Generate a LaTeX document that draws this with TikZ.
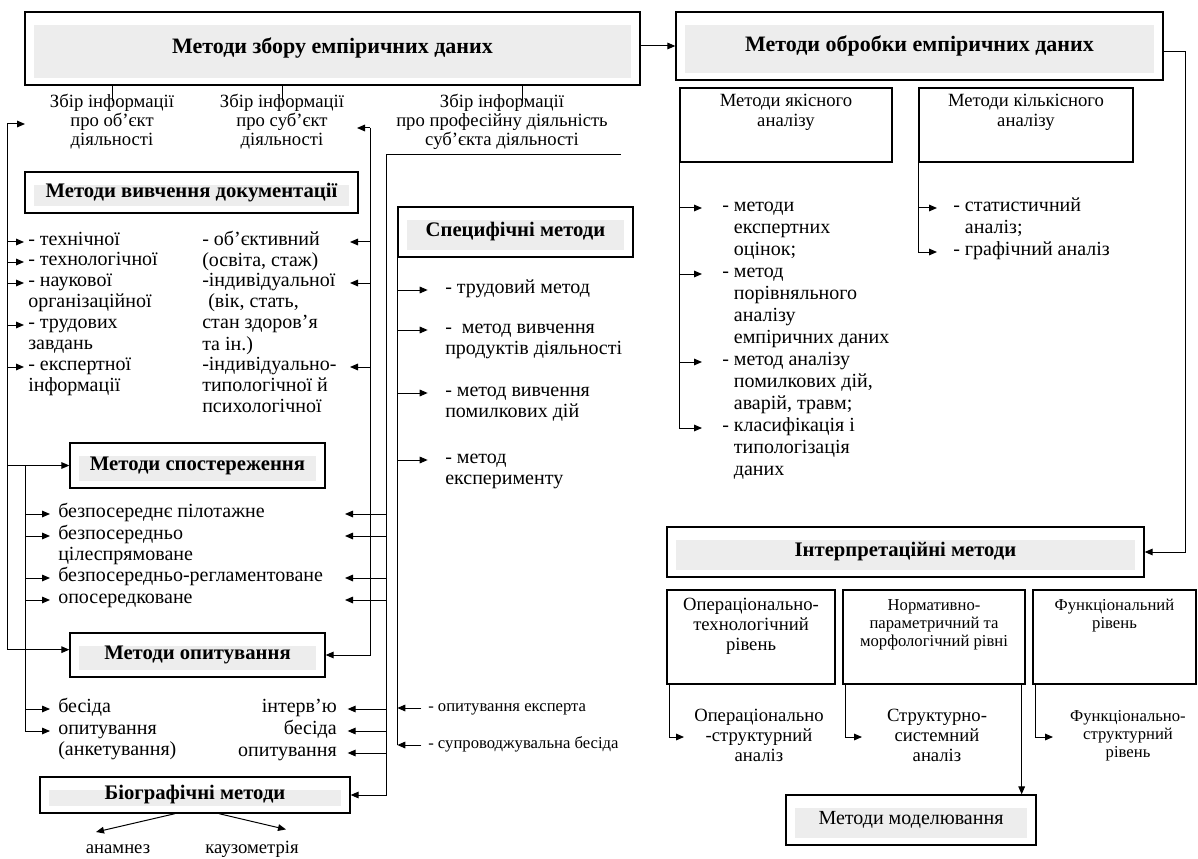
\documentclass[tikz,border=0pt]{standalone}
\usepackage{fontspec}
\setmainfont{Liberation Serif}
\usetikzlibrary{arrows.meta, calc}

\newcommand\titlefont{\bfseries\fontsize{15.5}{17}\selectfont}
\newcommand\bigtitlefont{\bfseries\fontsize{16.5}{18}\selectfont}
\newcommand\entryfont{\fontsize{15}{16}\selectfont}
\newcommand\rightfont{\fontsize{15}{16.5}\selectfont}
\newcommand\headfont{\fontsize{14}{14.25}\selectfont}
\newcommand\levelfont{\fontsize{14}{15}\selectfont}
\newcommand\levelsmall{\fontsize{12.5}{13.5}\selectfont}
\newcommand\leftlines[1]{\begin{tabular}[t]{@{}l@{}}#1\end{tabular}}
\newcommand\midlines[1]{\begin{tabular}[t]{@{}c@{}}#1\end{tabular}}
\colorlet{band}{black!7}

\begin{document}
\begin{tikzpicture}[x=0.75pt, y=-0.75pt,
  box/.style={draw, line width=1pt, inner sep=0pt},
  titlebox/.style={box, font=\titlefont,
    path picture={\fill[band] ($(path picture bounding box.south west)+(7pt,5pt)$)
      rectangle ($(path picture bounding box.north east)+(-7pt,-10pt)$);}},
  entry/.style={inner sep=0pt, anchor=mid west, font=\entryfont},
  entryr/.style={inner sep=0pt, anchor=mid east, font=\entryfont},
  head/.style={inner sep=0pt, anchor=mid, font=\headfont},
  level/.style={inner sep=0pt, anchor=mid, font=\levelfont},
  conn/.style={line width=0.75pt},
  arr/.style={conn, -{Triangle[length=6pt,width=5pt]}}]
\useasboundingbox (0,0) rectangle (1198,859);

% Top boxes
\node[titlebox, font=\bigtitlefont, minimum width=461.25pt, minimum height=54.75pt] (collect) at (332.5,48.5) {Методи збору емпіричних даних};
\node[titlebox, font=\bigtitlefont, minimum width=365.25pt, minimum height=51pt] (process) at (919.5,46) {Методи обробки емпіричних даних};
\draw[arr] (collect.east |- process.west) -- (process.west);

% Kinds of information
\node[head] (objinfo) at (112,104) {\midlines{Збір інформації\\про об’єкт\\діяльності}};
\node[head] (subinfo) at (282,104) {\midlines{Збір інформації\\про суб’єкт\\діяльності}};
\node[head] (profinfo) at (502,104) {\midlines{Збір інформації\\про професійну діяльність\\суб’єкта діяльності}};
\draw[conn] (objinfo.north |- collect.south) -- ++(0,15);
\draw[conn] (subinfo.north |- collect.south) -- ++(0,15);
\draw[conn] ($(profinfo.north |- collect.south)+(20,0)$) -- ++(0,15);

% Bus lines
\coordinate (busA) at (7,124);
\coordinate (busB) at (25,465.5);
\coordinate (busS) at (370,128);
\coordinate (busP) at (386,155);

% Documentation
\node[titlebox, minimum width=249.75pt, minimum height=30.75pt] (docs) at (191.5,192.5) {Методи вивчення документації};
\node[entry] (d1) at (28,242) {- технічної};
\node[entry] (d2) at (28,262) {- технологічної};
\node[entry] (d3) at (28,283) {\leftlines{- наукової\\організаційної}};
\node[entry] (d4) at (28,325) {\leftlines{- трудових\\завдань}};
\node[entry] (d5) at (28,367) {\leftlines{- експертної\\інформації}};
\node[entry] (e1) at (202,242) {\leftlines{- об’єктивний\\(освіта, стаж)}};
\node[entry] (e2) at (202,283) {\leftlines{-індивідуальної\\\hspace{0.3em}(вік, стать,\\стан здоров’я\\та ін.)}};
\node[entry] (e3) at (202,367) {\leftlines{-індивідуально-\\типологічної й\\психологічної}};

% Observation
\node[titlebox, minimum width=191.25pt, minimum height=33.75pt] (observ) at (197.5,465.5) {Методи спостереження};
\node[entry] (o1) at (58,514) {безпосереднє пілотажне};
\node[entry] (o2) at (58,536) {\leftlines{безпосередньо\\цілеспрямоване}};
\node[entry] (o3) at (58,578) {безпосередньо-регламентоване};
\node[entry] (o4) at (58,600) {опосередковане};

% Survey
\node[titlebox, minimum width=191.25pt, minimum height=33pt] (survey) at (197.5,655) {Методи опитування};
\node[entry] (q1) at (58,709) {бесіда};
\node[entry] (q2) at (58,731) {\leftlines{опитування\\(анкетування)}};
\node[entryr] (r1) at (337,709) {інтерв’ю};
\node[entryr] (r2) at (337,731) {бесіда};
\node[entryr] (r3) at (337,753) {опитування};

% Biography
\node[titlebox, minimum width=232.5pt, minimum height=27pt] (bio) at (195,795) {Біографічні методи};
\node[level] (anam) at (118,850) {анамнез};
\node[level] (kauz) at (252,850) {каузометрія};
\draw[arr] ($(bio.south)+(-20,0)$) -- ($(anam.north)+(-22,-12)$);
\draw[arr] ($(bio.south)+(24,0)$) -- ($(kauz.north)+(34,-11)$);

% Left bus
\draw[arr] (busA) -- ++(18,0);
\draw[arr] (busA) |- ([yshift=4pt]survey.west);
\foreach \n in {d1,d2,d3,d4,d5}
  \draw[arr] (busA |- \n.mid west) -- ([xshift=-3pt]\n.mid west);
\draw[arr] (busA |- observ.west) -- (observ.west);
\draw[conn] (busB) -- (busB |- q2.mid west);
\foreach \n in {o1,o2,o3,o4,q1,q2}
  \draw[arr] (busB |- \n.mid west) -- ([xshift=-6pt]\n.mid west);

% Subject bus
\draw[arr] (busS) -- ++(-13,0);
\draw[arr] (busS) |- (survey.east);
\foreach \n in {e1,e2,e3}
  \draw[arr] (busS |- \n.mid west) -- ++(-20,0);

% Professional bus
\draw[conn] (busP) -- ++(235,0);
\draw[arr] (busP) |- (bio.east);
\foreach \n in {o1,o2,o3,o4}
  \draw[arr] (busP |- \n.mid west) -- ++(-41,0);
\foreach \n in {r1,r2,r3}
  \draw[arr] (busP |- \n.mid west) -- ([xshift=8pt]\n.mid east);

% Specific methods
\node[titlebox, minimum width=176.25pt, minimum height=37.5pt] (spec) at (515.5,232) {Специфічні методи};
\node[entry] (p1) at (445,290) {- трудовий метод};
\node[entry] (p2) at (445,330) {\leftlines{-\ \ метод вивчення\\продуктів діяльності}};
\node[entry] (p3) at (445,393) {\leftlines{- метод вивчення\\помилкових дій}};
\node[entry] (p4) at (445,460) {\leftlines{- метод\\експерименту}};
\node[entry, font=\levelsmall] (p5) at (428,708) {- опитування експерта};
\node[entry, font=\levelsmall] (p6) at (428,745) {- супроводжувальна бесіда};
\draw[conn] (spec.south west) -- (spec.south west |- p6.mid west);
\foreach \n in {p1,p2,p3,p4}
  \draw[arr] (spec.south west |- \n.mid west) -- ([xshift=-13pt]\n.mid west);
\foreach \n in {p5,p6}
  \draw[arr] ([xshift=-5pt]\n.mid west) -- (spec.south west |- \n.mid west);

% Qualitative and quantitative analysis
\node[box, minimum width=159pt, minimum height=55.5pt] (qual) at (786,125) {};
\node[level] (qualtxt) at (786,103) {\midlines{Методи якісного\\аналізу}};
\node[box, minimum width=160.5pt, minimum height=55.5pt] (quant) at (1026,125) {};
\node[level] (quanttxt) at (1026,103) {\midlines{Методи кількісного\\аналізу}};
\node[entry, font=\rightfont] (m1) at (722,208) {- \leftlines{методи\\експертних\\оцінок;}};
\node[entry, font=\rightfont] (m2) at (722,274) {- \leftlines{метод\\порівняльного\\аналізу\\емпіричних даних}};
\node[entry, font=\rightfont] (m3) at (722,362) {- \leftlines{метод аналізу\\помилкових дій,\\аварій, травм;}};
\node[entry, font=\rightfont] (m4) at (722,428) {- \leftlines{класифікація і\\типологізація\\даних}};
\node[entry, font=\rightfont] (n1) at (953,208) {- \leftlines{статистичний\\аналіз;}};
\node[entry, font=\rightfont] (n2) at (953,252) {- графічний аналіз};
\draw[conn] (qual.south west) -- (qual.south west |- m4.mid west);
\foreach \n in {m1,m2,m3,m4}
  \draw[arr] (qual.south west |- \n.mid west) -- ([xshift=-15pt]\n.mid west);
\draw[conn] (quant.south west) -- (quant.south west |- n2.mid west);
\foreach \n in {n1,n2}
  \draw[arr] (quant.south west |- \n.mid west) -- ([xshift=-12pt]\n.mid west);

% Interpretation
\node[titlebox, minimum width=357.75pt, minimum height=37.5pt] (interp) at (905.5,552) {Інтерпретаційні методи};
\coordinate (busR) at (1185,300);
\draw[arr] ([yshift=-4pt]process.east) -| (busR) |- (interp.east);

% Levels
\node[box, minimum width=126pt, minimum height=70.5pt] (lev1) at (751,637) {};
\node[box, minimum width=136.5pt, minimum height=70.5pt] (lev2) at (934,637) {};
\node[box, minimum width=122.25pt, minimum height=70.5pt] (lev3) at (1114.5,637) {};
\node[level] (lev1txt) at (751,607) {\midlines{Операціонально-\\технологічний\\рівень}};
\node[level, font=\levelsmall] (lev2txt) at (934,607) {\midlines{Нормативно-\\параметричний та\\морфологічний рівні}};
\node[level, font=\levelsmall] (lev3txt) at (1114.5,607) {\midlines{Функціональний\\рівень}};
\node[level] (an1) at (759,718) {\midlines{Операціонально\\-структурний\\аналіз}};
\node[level] (an2) at (937,718) {\midlines{Структурно-\\системний\\аналіз}};
\node[level, font=\levelsmall] (an3) at (1128,718) {\midlines{Функціонально-\\структурний\\рівень}};
\coordinate (t1) at (684,737);
\coordinate (t2) at (862,737);
\coordinate (t3) at (1053,737);
\draw[arr] ([xshift=2pt]lev1.south west) |- (t1);
\draw[arr] ([xshift=2pt]lev2.south west) |- (t2);
\draw[arr] ([xshift=2pt]lev3.south west) |- (t3);

% Modelling
\node[titlebox, font=\fontsize{15}{17}\selectfont, minimum width=187.5pt, minimum height=37.5pt] (model) at (911,820) {Методи моделювання};
\draw[arr] ([xshift=-3pt]lev2.south east) -- ([xshift=-3pt]lev2.south east |- model.north);
\end{tikzpicture}
\end{document}
